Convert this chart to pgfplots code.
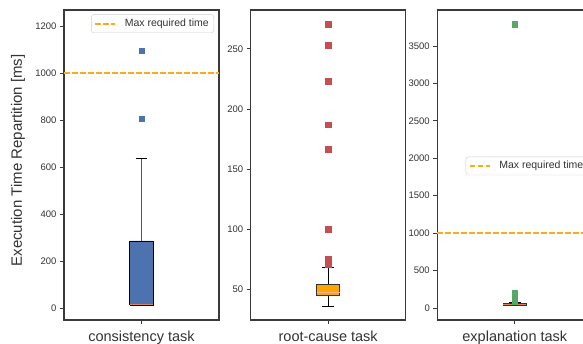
\documentclass[border=0pt]{standalone}
\usepackage{fontspec}
\setmainfont{Liberation Sans}
\usepackage{pgfplots}
\pgfplotsset{compat=1.18}
\definecolor{sblue}{HTML}{4C72B0}
\definecolor{sred}{HTML}{C44E52}
\definecolor{sgreen}{HTML}{55A868}
\definecolor{sbrown}{HTML}{9A5530}
\definecolor{sorange}{HTML}{FFAA1A}
\definecolor{boxorange}{HTML}{FFA500}
\definecolor{medline}{HTML}{DD8452}
\definecolor{spine}{HTML}{3A3A3A}
\definecolor{txt}{HTML}{333333}
\tikzset{maxline/.style={draw=sorange, color=sorange, line width=1.4bp, dash pattern=on 5.5bp off 2.5bp}}
\pgfplotsset{
  panel/.style={
    scale only axis, width=155bp, height=310bp, anchor=south west,
    xmin=0.5, xmax=1.5, xtick={1},
    axis line style={draw=spine, line width=1.1bp},
    every tick/.style={draw=spine, line width=0.9bp},
    tick align=outside, major tick length=4bp,
    xtick pos=left, ytick pos=left,
    yticklabel style={font=\fontsize{9.5bp}{11bp}\selectfont, text=txt},
    xticklabel style={font=\fontsize{14.5bp}{16bp}\selectfont, text=txt, yshift=-3bp},
    /pgf/number format/assume math mode=true,
    /pgf/number format/1000 sep={},
    clip=false,
    legend cell align=left,
    legend style={font=\fontsize{10.5bp}{12bp}\selectfont, text=txt,
      draw=black!20, rounded corners=2.5bp, fill=white, inner xsep=3bp, inner ysep=2.5bp},
  },
  outl/.style={only marks, mark=square*, mark size=2.8bp, color=#1},
}
\begin{document}
\begin{tikzpicture}
% Panel 1
\begin{axis}[panel, at={(64bp,24bp)},
  ymin=-49, ymax=1268, ytick={0,200,...,1200},
  xticklabels={consistency task},
  ylabel={Execution Time Repartition [ms]},
  every axis y label/.style={at={(axis description cs:-0.297,0.515)}, rotate=90, anchor=center,
    font=\fontsize{15bp}{17bp}\selectfont, text=txt},
  legend image code/.code={\draw[draw=sorange, line width=1.6bp, dash pattern=on 5.5bp off 2.5bp] (0bp,0bp) -- (20bp,0bp); \path (27bp,0bp);},
  legend style={at={(axis description cs:0.968,0.9855)}, anchor=north east}]
% whisker
\addplot[forget plot, draw=black!65, line width=1bp] coordinates {(1,287) (1,638)};
\addplot[forget plot, draw=black, line width=1bp] coordinates {(0.9625,638) (1.0375,638)};
% box
\addplot[forget plot, fill=sblue, draw=black, line width=0.8bp] coordinates {(0.925,15) (1.075,15) (1.075,287) (0.925,287) (0.925,15)};
% median
\addplot[forget plot, draw=medline, line width=1.3bp] coordinates {(0.925,17) (1.075,17)};
% outliers
\addplot[forget plot, outl=sblue] coordinates {(1,1095) (1,806)};
\addplot[maxline] coordinates {(0.5,1000) (1.5,1000)};
\addlegendentry{Max required time}
\end{axis}
% Panel 2
\begin{axis}[panel, at={(250.7bp,24bp)},
  ymin=24.5, ymax=282.3, ytick={50,100,...,250},
  xticklabels={root-cause task}]
\addplot[draw=black, line width=1bp] coordinates {(1,36) (1,44.7)};
\addplot[draw=black, line width=1bp] coordinates {(1,54.2) (1,67.8)};
\addplot[draw=black, line width=1bp] coordinates {(0.9625,36) (1.0375,36)};
\addplot[draw=black, line width=1bp] coordinates {(0.9625,67.8) (1.0375,67.8)};
\addplot[fill=boxorange, draw=black!80, line width=0.8bp] coordinates {(0.925,44.7) (1.075,44.7) (1.075,54.2) (0.925,54.2) (0.925,44.7)};
\addplot[draw=medline!60, line width=1bp] coordinates {(0.925,47) (1.075,47)};
\addplot[outl=sred] coordinates {
  (1,70.5) (1,71.5) (1,72.5) (1,73.5) (1,74.5) (1,75.5) (1,100) (1,166.7) (1,187) (1,223.3) (1,252.8) (1,270.3)};
\end{axis}
% Panel 3
\begin{axis}[panel, at={(437.3bp,24bp)},
  ymin=-160, ymax=3981, ytick={0,500,...,3500},
  xticklabels={explanation task},
  legend image code/.code={\draw[draw=sorange, line width=1.5bp, dash pattern=on 5.5bp off 2.5bp] (0bp,0bp) -- (20bp,0bp); \path (27bp,0bp);},
  legend style={at={(axis description cs:0.183,0.497)}, anchor=west}]
\addplot[forget plot, draw=black, line width=1bp] coordinates {(1,30) (1,76)};
\addplot[forget plot, outl=sgreen] coordinates {
  (1,90) (1,100) (1,110) (1,120) (1,130) (1,140) (1,150) (1,160) (1,170) (1,180) (1,190) (1,200) (1,3790)};
\addplot[forget plot, fill=sbrown, draw=black!80, line width=0.8bp] coordinates {(0.925,36) (1.075,36) (1.075,66) (0.925,66) (0.925,36)};
\addplot[forget plot, draw=medline, line width=1bp] coordinates {(0.925,50) (1.075,50)};
\addplot[forget plot, draw=black, line width=1.2bp] coordinates {(0.9625,76) (1.0375,76)};
\addplot[maxline] coordinates {(0.5,1000) (1.5,1000)};
\addlegendentry{Max required time}
\end{axis}
\pgfresetboundingbox
\useasboundingbox (0,0) rectangle (583bp,344bp);
\end{tikzpicture}
\end{document}
